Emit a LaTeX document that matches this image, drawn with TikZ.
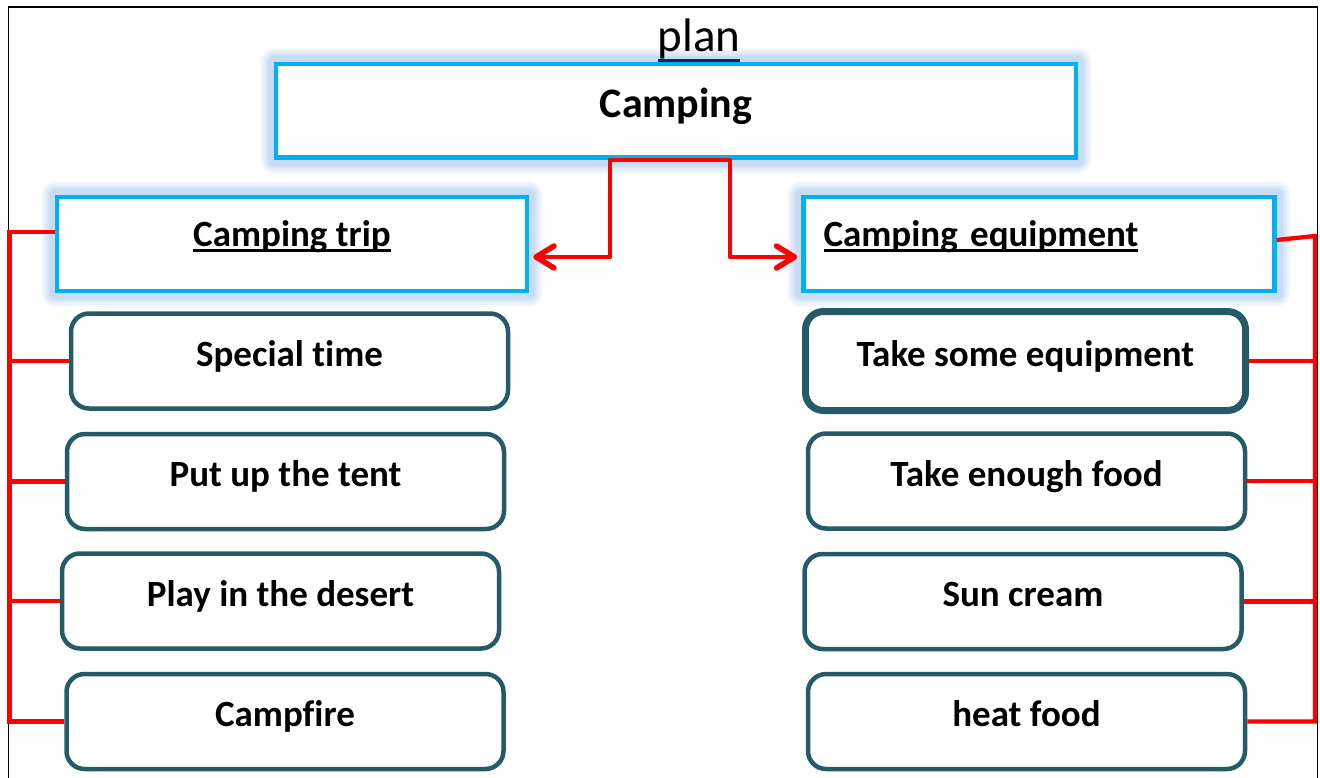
\documentclass[tikz,border=0pt]{standalone}
\usepackage{fontspec}
\setmainfont[Ligatures=NoCommon]{Carlito}
\usetikzlibrary{arrows.meta,backgrounds}
\definecolor{cyanb}{RGB}{0,176,240}
\definecolor{glowb}{RGB}{150,190,240}
\definecolor{tealb}{RGB}{37,91,105}
\definecolor{navyb}{RGB}{20,40,80}
\newcommand\myul[4]{\setbox0\hbox{#4}\rlap{\color{#1}\rule[#2]{\wd0}{#3}}\box0}
\newcommand\itemfont{\fontsize{37pt}{40pt}\selectfont\bfseries}
\begin{document}
\begin{tikzpicture}[x=1pt,y=-1pt,
  cbox/.style={draw=cyanb,line width=4.5pt,fill=white,inner sep=0pt,text height=#1,text depth=0pt,font=\itemfont},
  ibox/.style={draw=tealb,line width=4.5pt,fill=white,rounded corners=18pt,inner sep=0pt,minimum width=437pt,minimum height=95pt,text height=10pt,text depth=0pt,font=\itemfont},
  rl/.style={draw=red,line width=4.3pt},
  arr/.style={rl,line join=round,-{Straight Barb[length=18pt,width=22pt,line width=5.5pt,line cap=round,line join=round]}},
  glowline/.style={draw=glowb,line join=round}
]
\useasboundingbox (0,0) rectangle (1320,778);
\begin{scope}[on background layer]
\fill[white] (0,0) rectangle (1320,778);
\end{scope}
\begin{scope}
\clip (0,0) rectangle (1320,778);
\draw[black,line width=1.8pt] (8.5,800) -- (8.5,7) -- (1317.5,7) -- (1317.5,800);
\end{scope}

% title
\node[font=\fontsize{47pt}{50pt}\selectfont,text height=0pt,text depth=0pt,inner sep=0pt] (plan) at (699,52) {\myul{navyb}{-10pt}{3.3pt}{plan}};

% cyan boxes
\node[cbox=14pt,minimum width=800pt,minimum height=93.5pt,font=\fontsize{42pt}{45pt}\selectfont\bfseries] (camp) at (676,111) {Camping};
\node[cbox=6pt,minimum width=470pt,minimum height=93.5pt] (trip) at (292,244) {\myul{black}{-5.5pt}{3.5pt}{Camping trip}};
\node[cbox=6pt,minimum width=471pt,minimum height=93.5pt,inner xsep=20pt,text width=431pt,align=left] (eq) at (1039,244) {\myul{black}{-5.5pt}{3.5pt}{Camping equipment}};

% glow
\begin{scope}[on background layer]
\foreach \n in {camp,trip,eq}{
  \foreach \w/\o in {28/0.08,24/0.10,20/0.12,16/0.15,12/0.2}{
    \draw[glowline,line width=\w pt,opacity=\o] (\n.north west) rectangle (\n.south east);
  }
}
\end{scope}

% left items
\node[ibox] (a1) at (289.5,361) {Special time};
\node[ibox] (a2) at (285.5,481.5) {Put up the tent};
\node[ibox] (a3) at (280.5,601) {Play in the desert};
\node[ibox] (a4) at (285,721.5) {Campfire};
% right items
\node[ibox,line width=7pt,minimum width=440pt,minimum height=99pt] (b1) at (1025.5,361) {Take some equipment};
\node[ibox] (b2) at (1026.5,481) {Take enough food};
\node[ibox] (b3) at (1023,601.5) {Sun cream};
\node[ibox] (b4) at (1026.5,721.5) {heat food};

% top connectors
\coordinate (cl) at (610,160);
\coordinate (cr) at (730,160);
\draw[rl,line cap=round] (cl) -- (cr);
\draw[arr] (cl) |- ([xshift=4pt,yshift=-13pt]trip.east);
\draw[arr] (cr) |- ([xshift=-4pt,yshift=-13pt]eq.west);

% left bracket
\coordinate (L) at (9.5,0);
\coordinate (lt) at ([yshift=12pt]trip.west);
\draw[rl] (lt) -| (L |- a4.west) -- (a4.west);
\draw[rl] (a1.west) -- (L |- a1.west);
\draw[rl] (a2.west) -- (L |- a2.west);
\draw[rl] (a3.west) -- (L |- a3.west);

% right bracket
\coordinate (R) at (1315,0);
\coordinate (rt) at ([yshift=4pt]eq.east);
\coordinate (rtop) at (1315,236);
\draw[rl] (rt) -- (rtop) -- (R |- b4.east) -- (b4.east);
\draw[rl] (b1.east) -- (R |- b1.east);
\draw[rl] (b2.east) -- (R |- b2.east);
\draw[rl] (b3.east) -- (R |- b3.east);
\end{tikzpicture}
\end{document}
